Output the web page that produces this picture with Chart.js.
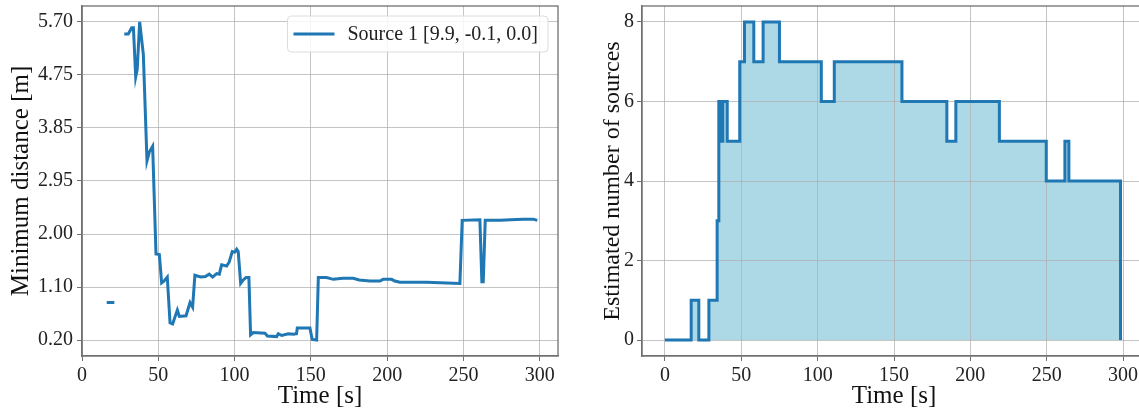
<!DOCTYPE html>
<html lang="en">
<head>
<meta charset="UTF-8">
<title>Minimum distance and estimated sources</title>
<script src="https://cdn.jsdelivr.net/npm/chart.js"></script>
<style>
    html, body { margin: 0; padding: 0; background: #fff; overflow: hidden; }
    #leftBox { position: absolute; left: 0; top: 0; width: 570px; height: 412px; }
    #rightBox { position: absolute; left: 570px; top: 0; width: 590px; height: 412px; }
</style>
</head>
<body>
<div id="leftBox"><canvas id="distChart"></canvas></div>
<div id="rightBox"><canvas id="countChart"></canvas></div>

<script>
    // left panel: minimum distance to source 1
    var distTimes = [16.2, 21.2, 24, 27.7, 30.3, 32.6, 33.7, 35.2, 36.2, 37.8,
        40.2, 42.6, 44.1, 46.3, 48.5, 50.7, 52.2, 53.7, 55.9, 57.7,
        59.4, 62.5, 63.8, 68.2, 70.8, 72.5, 74.0, 77.8, 80.8, 83.4,
        85.6, 88.3, 90.0, 91.5, 94.8, 96.5, 98.5, 100.2, 101.4, 102.4,
        104.0, 105.7, 107.5, 109.4, 110.5, 112.3, 119.9, 121.5, 127.6, 128.7,
        130.9, 135.2, 138.5, 140.6, 141.1, 149.4, 150.9, 153.8, 154.9, 160.3,
        164.7, 171.0, 177.8, 181.7, 188.7, 195.3, 197.4, 203.0, 205.0, 208.4,
        217.1, 225.9, 234.6, 247.7, 249.2, 260.8, 262.1, 263.0, 264.3, 274.2,
        280.8, 289.2, 295.8, 298.4];
    var distValues = [0.85, 0.85, null, 5.49, 5.49, 5.60, 5.60, 4.75, 4.88, 5.70,
        5.14, 3.30, 3.45, 3.55, 1.69, 1.68, 1.19, 1.22, 1.29, 0.50,
        0.48, 0.72, 0.61, 0.62, 0.85, 0.77, 1.32, 1.29, 1.30, 1.34,
        1.29, 1.35, 1.34, 1.50, 1.48, 1.55, 1.73, 1.72, 1.77, 1.73,
        1.18, 1.24, 1.28, 1.28, 0.29, 0.33, 0.32, 0.27, 0.26, 0.31,
        0.28, 0.31, 0.30, 0.31, 0.41, 0.41, 0.21, 0.20, 1.28, 1.28,
        1.25, 1.27, 1.27, 1.24, 1.22, 1.22, 1.25, 1.25, 1.22, 1.20,
        1.20, 1.20, 1.19, 1.18, 2.27, 2.28, 1.21, 1.21, 2.27, 2.27,
        2.28, 2.29, 2.29, 2.27];
    var distTickValues = [0.2, 1.117, 2.033, 2.95, 3.867, 4.783, 5.7];
    var distTickLabels = ['0.20', '1.10', '2.00', '2.95', '3.85', '4.75', '5.70'];
    var timeTicks = [0, 50, 100, 150, 200, 250, 300];
    var legendLabel = 'Source 1 [9.9, -0.1, 0.0]';

    // right panel: estimated number of sources (step changes)
    var stepTimes = [0, 17.2, 22.2, 28.8, 34.2, 35.3, 36.0, 36.6, 37.3, 37.9,
        40.8, 49.0, 52.1, 58.2, 64.3, 75.0, 102.4, 110.9, 155.2, 184.6,
        190.5, 219.0, 249.7, 261.9, 264.5, 298.3];
    var stepCounts = [0, 1, 0, 1, 3, 6, 5, 6, 5, 6,
        5, 7, 8, 7, 8, 7, 6, 7, 6, 5,
        6, 5, 4, 5, 4, 0];
    var countTicks = [0, 2, 4, 6, 8];

    var blue = '#1f77b4';
    var gridColor = 'rgba(176,176,176,0.75)';
    var axisColor = '#707070';
    var serif = "'Liberation Serif', 'DejaVu Serif', serif";

    Chart.defaults.font.family = serif;
    Chart.defaults.color = '#222';

    function toPoints(xs, ys) {
        return xs.map(function (x, i) { return { x: x, y: ys[i] }; });
    }

    function fixedTicks(list) {
        return function (scale) {
            scale.ticks = list.map(function (v) { return { value: v }; });
        };
    }

    // fixed axis sizes, and no extra room for labels that overhang the ends
    function fitY(width) {
        return function (s) { s.width = width; s.paddingTop = 0; s.paddingBottom = 0; };
    }
    function fitX(height) {
        return function (s) { s.height = height; s.paddingLeft = 0; s.paddingRight = 0; };
    }

    // full box round the plot area (top and right spines too)
    var framePlugin = {
        id: 'frame',
        afterDraw: function (chart) {
            var a = chart.chartArea;
            var ctx = chart.ctx;
            ctx.save();
            ctx.strokeStyle = axisColor;
            ctx.lineWidth = 1.3;
            ctx.strokeRect(a.left, a.top, a.right - a.left, a.bottom - a.top);
            ctx.restore();
        }
    };

    // legend box drawn in the upper right of the plot area
    var legendBoxPlugin = {
        id: 'legendBox',
        afterDraw: function (chart) {
            var ctx = chart.ctx;
            var area = chart.chartArea;
            ctx.save();
            ctx.font = '20px ' + serif;
            var textW = ctx.measureText(legendLabel).width;
            var w = textW + 70, h = 36;
            var x = area.right - 10 - w, y = area.top + 10;
            ctx.fillStyle = 'rgba(255,255,255,0.85)';
            ctx.strokeStyle = '#dcdcdc';
            ctx.lineWidth = 1;
            ctx.beginPath();
            ctx.roundRect(x, y, w, h, 4);
            ctx.fill();
            ctx.stroke();
            ctx.strokeStyle = blue;
            ctx.lineWidth = 3;
            ctx.beginPath();
            ctx.moveTo(x + 6, y + h / 2);
            ctx.lineTo(x + 47, y + h / 2);
            ctx.stroke();
            ctx.fillStyle = '#222';
            ctx.textBaseline = 'middle';
            ctx.fillText(legendLabel, x + 60, y + h / 2 + 1);
            ctx.restore();
        }
    };

    function axisStyle(extra) {
        var base = {
            type: 'linear',
            grid: { color: gridColor, lineWidth: 1, tickLength: 5, tickColor: axisColor },
            border: { display: true, color: axisColor, width: 1.3 },
            ticks: { font: { size: 20 }, color: '#222', padding: 3 }
        };
        return Object.assign(base, extra);
    }

    var distChart = new Chart(document.getElementById('distChart'), {
        type: 'line',
        data: {
            datasets: [{
                label: legendLabel,
                data: toPoints(distTimes, distValues),
                borderColor: blue,
                borderWidth: 3,
                pointRadius: 0,
                tension: 0,
                spanGaps: false,
                fill: false
            }]
        },
        options: {
            responsive: true,
            maintainAspectRatio: false,
            animation: false,
            layout: { padding: { top: 6, right: 12, left: 0, bottom: 0 } },
            plugins: { legend: { display: false }, tooltip: { enabled: false } },
            scales: {
                x: axisStyle({
                    min: 0, max: 312,
                    afterBuildTicks: fixedTicks(timeTicks),
                    afterFit: fitX(56),
                    title: { display: true, text: 'Time [s]', font: { size: 25 }, color: '#111', padding: { top: 0, bottom: 1 } }
                }),
                y: axisStyle({
                    min: -0.075, max: 5.975,
                    afterBuildTicks: fixedTicks(distTickValues),
                    afterFit: fitY(82),
                    ticks: {
                        font: { size: 20 }, color: '#222', padding: 4,
                        callback: function (v, i) { return distTickLabels[i]; }
                    },
                    title: { display: true, text: 'Minimum distance [m]', font: { size: 25 }, color: '#111', padding: { top: 6, bottom: 4 } }
                })
            }
        },
        plugins: [framePlugin, legendBoxPlugin]
    });

    var countChart = new Chart(document.getElementById('countChart'), {
        type: 'line',
        data: {
            datasets: [{
                label: 'Estimated number of sources',
                data: toPoints(stepTimes, stepCounts),
                borderColor: blue,
                borderWidth: 3,
                backgroundColor: '#add8e6',
                pointRadius: 0,
                stepped: 'before',
                fill: 'origin'
            }]
        },
        options: {
            responsive: true,
            maintainAspectRatio: false,
            animation: false,
            layout: { padding: { top: 6, right: 14, left: 0, bottom: 0 } },
            plugins: {
                legend: { display: false },
                tooltip: { enabled: false },
                filler: { drawTime: 'beforeDraw' }
            },
            scales: {
                x: axisStyle({
                    min: -15, max: 315,
                    afterBuildTicks: fixedTicks(timeTicks),
                    afterFit: fitX(56),
                    title: { display: true, text: 'Time [s]', font: { size: 25 }, color: '#111', padding: { top: 0, bottom: 1 } }
                }),
                y: axisStyle({
                    min: -0.4, max: 8.4,
                    afterBuildTicks: fixedTicks(countTicks),
                    afterFit: fitY(72),
                    title: { display: true, text: 'Estimated number of sources', font: { size: 24 }, color: '#111', padding: { top: 28, bottom: 4 } }
                })
            }
        },
        plugins: [framePlugin]
    });
</script>
</body>
</html>
